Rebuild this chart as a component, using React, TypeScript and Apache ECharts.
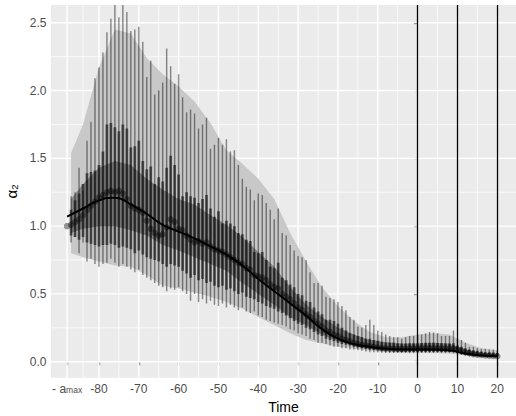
import React, { useEffect, useRef } from "react";
import * as echarts from "echarts";

// time of each error bar / point
const barTimes = [
  -88, -87, -86, -85, -84, -83, -82, -81, -80, -79,
  -78, -77, -76, -75, -74, -73, -72, -71, -70, -69,
  -68, -67, -66, -65, -64, -63, -62, -61, -60, -59,
  -58, -57, -56, -55, -54, -53, -52, -51, -50, -49,
  -48, -47, -46, -45, -44, -43, -42, -41, -40, -39,
  -38, -37, -36, -35, -34, -33, -32, -31, -30, -29,
  -28, -27, -26, -25, -24, -23, -22, -21, -20, -19,
  -18, -17, -16, -15, -14, -13, -12, -11, -10, -9,
  -8, -7, -6, -5, -4, -3, -2, -1, 0, 1,
  2, 3, 4, 5, 6, 7, 8, 9, 10, 11,
  12, 13, 14, 15, 16, 17, 18, 19, 20,
];
const outerHigh = [
  null, 1.22, 1.25, 1.43, 1.26, 1.63, 1.77, 2.09, 2.17, 2.28,
  2.43, 2.53, 2.7, 2.54, 2.7, 2.58, 2.44, 2.45, 2.47, 2.36,
  2.1, 2.22, 1.97, 2.0, 2.06, 2.31, 2.18, 2.05, 2.12, 1.95,
  1.84, 1.86, 1.83, 1.72, 1.75, 1.8, 1.57, 1.6, 1.65, 1.6,
  1.64, 1.55, 1.56, 1.45, 1.35, 1.29, 1.27, 1.19, 1.24, 1.23,
  1.17, 1.12, 1.05, 1.13, 0.95, 0.93, 0.86, 0.82, 0.78, 0.77,
  0.75, 0.66, 0.58, 0.58, 0.56, 0.48, 0.47, 0.46, 0.44, 0.41,
  0.38, 0.33, 0.31, 0.26, 0.25, 0.27, 0.31, 0.27, 0.23, 0.22,
  0.2, 0.19, 0.18, 0.18, 0.17, 0.18, 0.19, 0.19, 0.2, 0.2,
  0.21, 0.22, 0.215, 0.21, 0.19, 0.19, 0.19, 0.23, 0.17, 0.16,
  0.14, 0.11, 0.11, 0.1, 0.095, 0.095, 0.09, 0.09, 0.08,
];
const outerLow = [
  null, 0.88, 0.92, 0.8, 0.88, 0.74, 0.76, 0.72, 0.7, 0.72,
  0.73, 0.76, 0.73, 0.7, 0.72, 0.7, 0.68, 0.66, 0.68, 0.64,
  0.62, 0.6, 0.58, 0.56, 0.55, 0.52, 0.54, 0.53, 0.55, 0.52,
  0.5, 0.45, 0.5, 0.44, 0.46, 0.43, 0.45, 0.42, 0.41, 0.43,
  0.4, 0.42, 0.4, 0.38, 0.4, 0.37, 0.36, 0.37, 0.34, 0.33,
  0.31, 0.3, 0.29, 0.28, 0.27, 0.26, 0.24, 0.23, 0.21, 0.2,
  0.19, 0.17, 0.16, 0.14, 0.14, 0.13, 0.12, 0.11, 0.11, 0.1,
  0.1, 0.09, 0.09, 0.085, 0.08, 0.075, 0.07, 0.07, 0.068, 0.066,
  0.065, 0.065, 0.065, 0.064, 0.064, 0.064, 0.063, 0.063, 0.063, 0.064,
  0.064, 0.064, 0.064, 0.064, 0.063, 0.063, 0.062, 0.06, 0.055, 0.05,
  0.045, 0.04, 0.038, 0.036, 0.035, 0.034, 0.033, 0.032, 0.031,
];
const innerHigh = [
  null, 1.12, 1.19, 1.24, 1.31, 1.39, 1.4, 1.41, 1.45, 1.55,
  1.75, 1.76, 1.73, 1.7, 1.75, 1.72, 1.58, 1.59, 1.63, 1.48,
  1.42, 1.44, 1.31, 1.36, 1.33, 1.43, 1.52, 1.45, 1.38, 1.22,
  1.25, 1.22, 1.21, 1.17, 1.2, 1.23, 1.13, 1.07, 1.11, 1.02,
  1.04, 1.02, 1.0, 0.95, 0.94, 0.9, 0.89, 0.81, 0.8, 0.81,
  0.75, 0.7, 0.69, 0.73, 0.62, 0.6, 0.57, 0.55, 0.5, 0.49,
  0.45, 0.44, 0.4, 0.37, 0.35, 0.31, 0.31, 0.3, 0.28, 0.25,
  0.23, 0.21, 0.2, 0.19, 0.18, 0.17, 0.17, 0.16, 0.155, 0.145,
  0.14, 0.14, 0.14, 0.135, 0.135, 0.135, 0.136, 0.137, 0.137, 0.138,
  0.14, 0.14, 0.14, 0.138, 0.136, 0.135, 0.135, 0.136, 0.12, 0.11,
  0.1, 0.09, 0.085, 0.08, 0.075, 0.07, 0.07, 0.068, 0.065,
];
const innerLow = [
  null, 0.93, 0.92, 0.9, 0.92, 0.88, 0.87, 0.86, 0.85, 0.86,
  0.86, 0.87, 0.86, 0.84, 0.85, 0.84, 0.83, 0.8, 0.82, 0.79,
  0.77, 0.76, 0.75, 0.74, 0.72, 0.7, 0.72, 0.71, 0.7, 0.67,
  0.65, 0.62, 0.64, 0.6, 0.61, 0.58, 0.59, 0.56, 0.55, 0.56,
  0.53, 0.54, 0.52, 0.5, 0.51, 0.48, 0.47, 0.46, 0.44, 0.43,
  0.41, 0.4, 0.39, 0.37, 0.36, 0.34, 0.32, 0.3, 0.28, 0.27,
  0.25, 0.24, 0.22, 0.2, 0.19, 0.17, 0.16, 0.15, 0.14, 0.13,
  0.125, 0.12, 0.11, 0.105, 0.1, 0.095, 0.09, 0.088, 0.085, 0.08,
  0.078, 0.076, 0.075, 0.074, 0.072, 0.072, 0.072, 0.072, 0.072, 0.072,
  0.072, 0.072, 0.072, 0.072, 0.072, 0.072, 0.072, 0.072, 0.065, 0.06,
  0.055, 0.05, 0.047, 0.045, 0.043, 0.042, 0.041, 0.04, 0.04,
];
const pointValues = [
  1.0, 1.01, 1.03, 1.05, 1.08, 1.12, 1.15, 1.18, 1.21, 1.23,
  1.25, 1.26, 1.25, 1.26, 1.24, 1.2, 1.15, 1.13, 1.12, 1.1,
  1.04, 0.98, 0.95, 0.93, 0.94, 0.99, 1.05, 1.03, 0.98, 0.97,
  0.93, 0.9, 0.88, 0.89, 0.87, 0.88, 0.85, 0.83, 0.82, 0.81,
  0.79, 0.77, 0.75, 0.73, 0.72, 0.69, 0.68, 0.64, 0.63, 0.62,
  0.6, 0.57, 0.55, 0.54, 0.5, 0.48, 0.46, 0.43, 0.4, 0.38,
  0.35, 0.33, 0.3, 0.28, 0.26, 0.23, 0.22, 0.2, 0.19, 0.17,
  0.16, 0.15, 0.14, 0.13, 0.125, 0.12, 0.115, 0.11, 0.105, 0.1,
  0.098, 0.097, 0.096, 0.095, 0.095, 0.096, 0.097, 0.098, 0.098, 0.099,
  0.1, 0.1, 0.1, 0.099, 0.098, 0.097, 0.096, 0.095, 0.09, 0.08,
  0.07, 0.062, 0.056, 0.052, 0.049, 0.046, 0.044, 0.042, 0.04,
];

// smoothed fit line
const lineTimes = [-88, -84, -80, -76, -72, -68, -64, -60, -56, -52, -48, -44, -40, -36, -32, -28, -24, -20, -16, -12, -8, -4, 0, 4, 8, 12, 16, 20];
const lineValues = [1.07, 1.13, 1.19, 1.21, 1.16, 1.09, 1.01, 0.96, 0.91, 0.85, 0.79, 0.71, 0.61, 0.52, 0.43, 0.34, 0.24, 0.17, 0.13, 0.11, 0.095, 0.09, 0.09, 0.09, 0.085, 0.06, 0.045, 0.04];

// ribbons
const bandTimes = [-87, -84, -80, -76, -72, -68, -64, -60, -56, -52, -48, -44, -40, -36, -32, -28, -24, -20, -16, -12, -8, -4, 0, 4, 8, 12, 16, 20];
const outerBandHigh = [1.54, 1.75, 2.17, 2.45, 2.42, 2.24, 2.12, 2.03, 1.92, 1.76, 1.56, 1.46, 1.35, 1.2, 0.95, 0.74, 0.55, 0.41, 0.3, 0.22, 0.18, 0.18, 0.2, 0.21, 0.2, 0.14, 0.1, 0.085];
const outerBandLow = [0.8, 0.77, 0.74, 0.71, 0.7, 0.64, 0.56, 0.54, 0.51, 0.48, 0.44, 0.39, 0.33, 0.27, 0.21, 0.16, 0.135, 0.11, 0.095, 0.08, 0.07, 0.065, 0.065, 0.065, 0.063, 0.045, 0.037, 0.033];
const innerBandHigh = [1.2, 1.31, 1.43, 1.48, 1.45, 1.35, 1.27, 1.2, 1.16, 1.08, 1.01, 0.92, 0.81, 0.7, 0.55, 0.42, 0.33, 0.25, 0.2, 0.16, 0.145, 0.135, 0.135, 0.14, 0.135, 0.09, 0.065, 0.055];
const innerBandLow = [0.95, 0.98, 1.0, 1.0, 0.97, 0.93, 0.86, 0.82, 0.77, 0.72, 0.67, 0.58, 0.5, 0.42, 0.33, 0.27, 0.2, 0.15, 0.12, 0.1, 0.095, 0.09, 0.08, 0.08, 0.075, 0.05, 0.04, 0.035];

// axes
const xTicks = [-88, -80, -70, -60, -50, -40, -30, -20, -10, 0, 10, 20];
const xMinor = [-84, -75, -65, -55, -45, -35, -25, -15, -5, 5, 15];
const yTicks = [0, 0.5, 1, 1.5, 2, 2.5];
const yMinor = [0.25, 0.75, 1.25, 1.75, 2.25];
const refLines = [0, 10, 20];

const X_MIN = -92.04;
const X_MAX = 24.7;
const Y_MIN = -0.118;
const Y_MAX = 2.631;

const FONT = "'Liberation Sans', Arial, Helvetica, sans-serif";

export default function App() {
  const ref = useRef<HTMLDivElement>(null);

  useEffect(() => {
    if (!ref.current) return;
    const chart = echarts.init(ref.current, null, { renderer: "svg" });

    const gridData: number[][] = [
      ...xTicks.map((v) => [0, v, 1]),
      ...xMinor.map((v) => [0, v, 0]),
      ...yTicks.map((v) => [1, v, 1]),
      ...yMinor.map((v) => [1, v, 0]),
    ];

    const ribbon = (lo: number[], hi: number[], color: string) => ({
      type: "custom",
      z: 2,
      silent: true,
      data: [[bandTimes[0], lo[0]]],
      renderItem: (params: any, api: any) => {
        if (params.dataIndex !== 0) return null;
        const pts: number[][] = [];
        for (let i = 0; i < bandTimes.length; i++) pts.push(api.coord([bandTimes[i], hi[i]]));
        for (let i = bandTimes.length - 1; i >= 0; i--) pts.push(api.coord([bandTimes[i], lo[i]]));
        return { type: "polygon", shape: { points: pts }, style: { fill: color } };
      },
    });

    const bars = (lo: (number | null)[], hi: (number | null)[], color: string, width: number, z: number) => ({
      type: "custom",
      z,
      silent: true,
      clip: true,
      data: barTimes
        .map((t, i) => [t, lo[i], hi[i]])
        .filter((d) => d[1] != null && d[2] != null),
      encode: { x: 0, y: [1, 2] },
      renderItem: (params: any, api: any) => {
        const t = api.value(0);
        const p1 = api.coord([t, api.value(1)]);
        const p2 = api.coord([t, api.value(2)]);
        return {
          type: "line",
          shape: { x1: p1[0], y1: p1[1], x2: p2[0], y2: p2[1] },
          style: { stroke: color, lineWidth: width },
        };
      },
    });

    const labelRich = {
      m: { fontSize: 12, color: "#4D4D4D", fontFamily: FONT, lineHeight: 16, verticalAlign: "bottom" },
      s: { fontSize: 8.5, color: "#4D4D4D", fontFamily: FONT, lineHeight: 7, verticalAlign: "bottom" },
    };

    chart.setOption({
      animation: false,
      grid: {
        left: 51,
        right: 0,
        top: 5,
        bottom: 38.3,
        show: true,
        backgroundColor: "#EBEBEB",
        borderWidth: 0,
        containLabel: false,
        outerBoundsMode: "none",
      },
      xAxis: {
        type: "value",
        min: X_MIN,
        max: X_MAX,
        axisLine: { show: false },
        splitLine: { show: false },
        axisTick: {
          show: true,
          customValues: xTicks,
          length: 3.7,
          lineStyle: { color: "#333333", width: 1.2 },
        },
        axisLabel: {
          customValues: xTicks,
          margin: 1,
          formatter: (v: number) => (v === -88 ? "{m|- a}{s|max}" : "{m|" + v + "}"),
          rich: labelRich,
        },
        name: "Time",
        nameLocation: "middle",
        nameGap: 14,
        nameTextStyle: { fontSize: 14, color: "#000000", fontFamily: FONT },
      },
      yAxis: {
        type: "value",
        min: Y_MIN,
        max: Y_MAX,
        axisLine: { show: false },
        splitLine: { show: false },
        axisTick: {
          show: true,
          customValues: yTicks,
          length: 3.7,
          lineStyle: { color: "#333333", width: 1.2 },
        },
        axisLabel: {
          customValues: yTicks,
          margin: 4.5,
          fontSize: 12,
          color: "#4D4D4D",
          fontFamily: FONT,
          formatter: (v: number) => v.toFixed(1),
        },
        name: "α₂",
        nameLocation: "middle",
        nameRotate: 90,
        nameGap: 23,
        nameTextStyle: { fontSize: 15, color: "#000000", fontFamily: FONT },
      },
      series: [
        {
          type: "custom",
          z: 1,
          silent: true,
          data: gridData,
          renderItem: (params: any, api: any) => {
            const o = api.value(0);
            const v = api.value(1);
            const major = api.value(2) === 1;
            const a = o === 0 ? api.coord([v, Y_MIN]) : api.coord([X_MIN, v]);
            const b = o === 0 ? api.coord([v, Y_MAX]) : api.coord([X_MAX, v]);
            return {
              type: "line",
              shape: { x1: a[0], y1: a[1], x2: b[0], y2: b[1] },
              style: { stroke: "#FFFFFF", lineWidth: major ? 1.4 : 0.7 },
            };
          },
        },
        ribbon(outerBandLow, outerBandHigh, "#C8C8C8"),
        ribbon(innerBandLow, innerBandHigh, "#868686"),
        bars(outerLow, outerHigh, "rgba(0,0,0,0.45)", 1.4, 3),
        bars(innerLow, innerHigh, "rgba(0,0,0,0.55)", 2.8, 3),
        {
          type: "scatter",
          z: 4,
          silent: true,
          symbol: "circle",
          symbolSize: 6.5,
          itemStyle: { color: "rgba(0,0,0,0.5)" },
          data: barTimes.map((t, i) => [t, pointValues[i]]),
        },
        {
          type: "line",
          z: 5,
          silent: true,
          smooth: true,
          showSymbol: false,
          lineStyle: { color: "#000000", width: 2 },
          data: lineTimes.map((t, i) => [t, lineValues[i]]),
          markLine: {
            silent: true,
            symbol: "none",
            label: { show: false },
            lineStyle: { color: "#000000", width: 1.3, type: "solid" },
            data: refLines.map((v) => ({ xAxis: v })),
          },
        },
      ],
    });

    return () => chart.dispose();
  }, []);

  return (
    <div
      ref={ref}
      style={{ position: "fixed", left: 0, top: 0, width: 516, height: 416, background: "#FFFFFF" }}
    />
  );
}
